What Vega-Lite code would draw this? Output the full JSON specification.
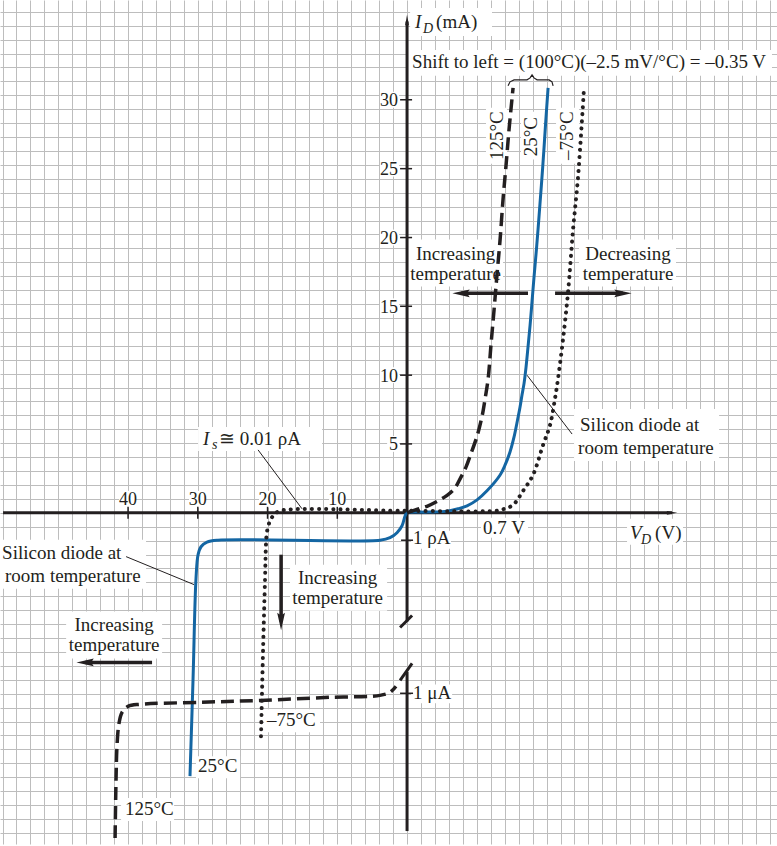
{
"$schema":"https://vega.github.io/schema/vega-lite/v6.json",
"width":777,"height":846,
"autosize":{"type":"fit","contains":"padding"},
"padding":0,
"background":"white",
"config":{"view":{"stroke":null},"axis":{"grid":true,"labels":false,"ticks":false,"domain":false,"title":null,"gridColor":"#bdbdbd","gridWidth":1,"gridOpacity":1},"axisX":{"tickCount":56},"axisY":{"tickCount":61}},
"datasets":{
"boxes":[
{"x":0.07,"x2":26.16,"y":31.40,"y2":33.26},
{"x":0.22,"x2":6.09,"y":34.27,"y2":36.27},
{"x":5.66,"x2":7.17,"y":25.09,"y2":29.10},
{"x":8.17,"x2":9.75,"y":25.38,"y2":28.82},
{"x":10.68,"x2":12.33,"y":25.09,"y2":29.10},
{"x":0.07,"x2":6.88,"y":16.27,"y2":19.64},
{"x":12.33,"x2":19.28,"y":16.27,"y2":19.64},
{"x":11.97,"x2":22.37,"y":3.73,"y2":7.46},
{"x":-14.98,"x2":-6.09,"y":4.44,"y2":6.16},
{"x":-20.65,"x2":-19.43,"y":0.36,"y2":1.58},
{"x":-15.63,"x2":-14.41,"y":0.36,"y2":1.58},
{"x":-10.61,"x2":-9.39,"y":0.36,"y2":1.58},
{"x":-5.59,"x2":-4.37,"y":0.36,"y2":1.58},
{"x":-1.43,"x2":-0.57,"y":4.38,"y2":5.52},
{"x":-1.94,"x2":-0.57,"y":9.32,"y2":10.46},
{"x":-1.94,"x2":-0.57,"y":14.27,"y2":15.41},
{"x":-1.94,"x2":-0.57,"y":19.21,"y2":20.35},
{"x":-1.94,"x2":-0.57,"y":24.16,"y2":25.30},
{"x":-1.94,"x2":-0.57,"y":29.11,"y2":30.25},
{"x":5.30,"x2":8.67,"y":-1.79,"y2":-0.36},
{"x":0.29,"x2":3.15,"y":-2.58,"y2":-1.29},
{"x":0.29,"x2":3.23,"y":-13.69,"y2":-12.33},
{"x":15.77,"x2":19.78,"y":-2.29,"y2":-0.43},
{"x":-29.18,"x2":-18.71,"y":-5.45,"y2":-1.94},
{"x":-8.39,"x2":-1.43,"y":-7.03,"y2":-3.73},
{"x":-24.44,"x2":-17.56,"y":-10.47,"y2":-7.10},
{"x":-15.13,"x2":-11.97,"y":-19.07,"y2":-17.49},
{"x":-20.50,"x2":-16.70,"y":-22.15,"y2":-20.50},
{"x":-10.25,"x2":-6.24,"y":-15.77,"y2":-14.12}
],
"curves":[
{"c":"25","s":"a","o":1,"x":-15.56,"y":-18.92},
{"c":"25","s":"a","o":2,"x":-15.34,"y":-11.90},
{"c":"25","s":"a","o":3,"x":-15.13,"y":-4.73},
{"c":"25","s":"a","o":4,"x":-14.98,"y":-3.01},
{"c":"25","s":"a","o":5,"x":-14.77,"y":-2.44},
{"c":"25","s":"a","o":6,"x":-14.34,"y":-2.11},
{"c":"25","s":"a","o":7,"x":-13.55,"y":-1.97},
{"c":"25","s":"a","o":8,"x":-1.94,"y":-1.97},
{"c":"25","s":"a","o":9,"x":-1.22,"y":-1.79},
{"c":"25","s":"a","o":10,"x":-0.72,"y":-1.43},
{"c":"25","s":"a","o":11,"x":-0.36,"y":-0.93},
{"c":"25","s":"a","o":12,"x":-0.14,"y":-0.22},
{"c":"25","s":"a","o":13,"x":0,"y":0},
{"c":"25","s":"a","o":14,"x":1.43,"y":0.05},
{"c":"25","s":"a","o":15,"x":2.87,"y":0.12},
{"c":"25","s":"a","o":16,"x":3.66,"y":0.29},
{"c":"25","s":"a","o":17,"x":4.30,"y":0.50},
{"c":"25","s":"a","o":18,"x":5.02,"y":0.93},
{"c":"25","s":"a","o":19,"x":5.73,"y":1.58},
{"c":"25","s":"a","o":20,"x":6.67,"y":2.72},
{"c":"25","s":"a","o":21,"x":7.03,"y":3.44},
{"c":"25","s":"a","o":22,"x":7.38,"y":4.37},
{"c":"25","s":"a","o":23,"x":7.67,"y":5.45},
{"c":"25","s":"a","o":24,"x":7.89,"y":6.52},
{"c":"25","s":"a","o":25,"x":8.10,"y":7.60},
{"c":"25","s":"a","o":26,"x":8.24,"y":8.46},
{"c":"25","s":"a","o":27,"x":8.39,"y":9.32},
{"c":"25","s":"a","o":28,"x":8.53,"y":10.47},
{"c":"25","s":"a","o":29,"x":8.67,"y":11.90},
{"c":"25","s":"a","o":30,"x":8.82,"y":13.48},
{"c":"25","s":"a","o":31,"x":8.96,"y":15.20},
{"c":"25","s":"a","o":32,"x":9.10,"y":16.92},
{"c":"25","s":"a","o":33,"x":9.25,"y":18.64},
{"c":"25","s":"a","o":34,"x":9.39,"y":20.36},
{"c":"25","s":"a","o":35,"x":9.53,"y":22.22},
{"c":"25","s":"a","o":36,"x":9.68,"y":24.23},
{"c":"25","s":"a","o":37,"x":9.82,"y":26.24},
{"c":"25","s":"a","o":38,"x":9.96,"y":28.39},
{"c":"25","s":"a","o":39,"x":10.11,"y":30.54},
{"c":"125","s":"r","o":1,"x":-20.93,"y":-23.37},
{"c":"125","s":"r","o":2,"x":-20.86,"y":-19.07},
{"c":"125","s":"r","o":3,"x":-20.79,"y":-16.70},
{"c":"125","s":"r","o":4,"x":-20.65,"y":-15.13},
{"c":"125","s":"r","o":5,"x":-20.43,"y":-14.34},
{"c":"125","s":"r","o":6,"x":-20.00,"y":-13.91},
{"c":"125","s":"r","o":7,"x":-19.14,"y":-13.76},
{"c":"125","s":"r","o":8,"x":-14.84,"y":-13.62},
{"c":"125","s":"r","o":9,"x":-10.54,"y":-13.48},
{"c":"125","s":"r","o":10,"x":-5.52,"y":-13.26},
{"c":"125","s":"r","o":11,"x":-1.94,"y":-13.12},
{"c":"125","s":"r","o":12,"x":-1.22,"y":-12.90},
{"c":"125","s":"r","o":13,"x":-0.79,"y":-12.47},
{"c":"125","s":"f","o":1,"x":0,"y":0},
{"c":"125","s":"f","o":2,"x":0.65,"y":0.22},
{"c":"125","s":"f","o":3,"x":1.43,"y":0.47},
{"c":"125","s":"f","o":4,"x":2.15,"y":0.82},
{"c":"125","s":"f","o":5,"x":2.87,"y":1.25},
{"c":"125","s":"f","o":6,"x":3.44,"y":1.79},
{"c":"125","s":"f","o":7,"x":3.80,"y":2.44},
{"c":"125","s":"f","o":8,"x":4.23,"y":3.30},
{"c":"125","s":"f","o":9,"x":4.52,"y":4.09},
{"c":"125","s":"f","o":10,"x":5.02,"y":5.52},
{"c":"125","s":"f","o":11,"x":5.38,"y":6.95},
{"c":"125","s":"f","o":12,"x":5.59,"y":8.17},
{"c":"125","s":"f","o":13,"x":5.81,"y":9.61},
{"c":"125","s":"f","o":14,"x":6.02,"y":12.11},
{"c":"125","s":"f","o":15,"x":6.24,"y":14.62},
{"c":"125","s":"f","o":16,"x":6.45,"y":17.13},
{"c":"125","s":"f","o":17,"x":6.67,"y":19.64},
{"c":"125","s":"f","o":18,"x":6.88,"y":22.51},
{"c":"125","s":"f","o":19,"x":7.10,"y":25.02},
{"c":"125","s":"f","o":20,"x":7.31,"y":27.53},
{"c":"125","s":"f","o":21,"x":7.60,"y":30.54},
{"c":"-75","s":"a","o":1,"x":-10.47,"y":-16.06},
{"c":"-75","s":"a","o":2,"x":-10.32,"y":-9.75},
{"c":"-75","s":"a","o":3,"x":-10.18,"y":-4.73},
{"c":"-75","s":"a","o":4,"x":-10.11,"y":-2.22},
{"c":"-75","s":"a","o":5,"x":-10.04,"y":-1.36},
{"c":"-75","s":"a","o":6,"x":-9.82,"y":-0.57},
{"c":"-75","s":"a","o":7,"x":-9.53,"y":-0.14},
{"c":"-75","s":"a","o":8,"x":-9.10,"y":0.14},
{"c":"-75","s":"a","o":9,"x":0,"y":0.14},
{"c":"-75","s":"a","o":10,"x":6.31,"y":0.14},
{"c":"-75","s":"a","o":11,"x":6.88,"y":0.25},
{"c":"-75","s":"a","o":12,"x":7.60,"y":0.57},
{"c":"-75","s":"a","o":13,"x":8.32,"y":1.58},
{"c":"-75","s":"a","o":14,"x":9.03,"y":2.72},
{"c":"-75","s":"a","o":15,"x":9.75,"y":4.87},
{"c":"-75","s":"a","o":16,"x":10.25,"y":6.31},
{"c":"-75","s":"a","o":17,"x":10.61,"y":8.24},
{"c":"-75","s":"a","o":18,"x":10.82,"y":9.61},
{"c":"-75","s":"a","o":19,"x":11.18,"y":12.47},
{"c":"-75","s":"a","o":20,"x":11.54,"y":15.84},
{"c":"-75","s":"a","o":21,"x":11.90,"y":20.36},
{"c":"-75","s":"a","o":22,"x":12.26,"y":24.16},
{"c":"-75","s":"a","o":23,"x":12.69,"y":30.61},
{"c":"brace","s":"a","o":1,"x":7.24,"y":30.68},
{"c":"brace","s":"a","o":2,"x":7.38,"y":30.97},
{"c":"brace","s":"a","o":3,"x":7.67,"y":31.11},
{"c":"brace","s":"a","o":4,"x":8.60,"y":31.11},
{"c":"brace","s":"a","o":5,"x":8.82,"y":31.25},
{"c":"brace","s":"a","o":6,"x":8.96,"y":31.47},
{"c":"brace","s":"a","o":7,"x":9.10,"y":31.25},
{"c":"brace","s":"a","o":8,"x":9.32,"y":31.11},
{"c":"brace","s":"a","o":9,"x":10.18,"y":31.11},
{"c":"brace","s":"a","o":10,"x":10.39,"y":30.97},
{"c":"brace","s":"a","o":11,"x":10.47,"y":30.68}
],
"segs":[
{"k":"axis","x":-28.96,"y":0,"x2":19.0,"y2":0},
{"k":"axis","x":0,"y":35.3,"x2":0,"y2":-7.81},
{"k":"axis","x":-0.50,"y":-8.24,"x2":0.36,"y2":-7.38},
{"k":"axis","x":-0.50,"y":-12.04,"x2":0.36,"y2":-10.82},
{"k":"axis","x":0,"y":-11.43,"x2":0,"y2":-22.87},
{"k":"tick","x":-0.50,"y":4.95,"x2":0.36,"y2":4.95},
{"k":"tick","x":-0.50,"y":9.89,"x2":0.36,"y2":9.89},
{"k":"tick","x":-0.50,"y":14.84,"x2":0.36,"y2":14.84},
{"k":"tick","x":-0.50,"y":19.78,"x2":0.36,"y2":19.78},
{"k":"tick","x":-0.50,"y":24.73,"x2":0.36,"y2":24.73},
{"k":"tick","x":-0.50,"y":29.68,"x2":0.36,"y2":29.68},
{"k":"tick","x":-0.43,"y":-1.97,"x2":0.43,"y2":-1.97},
{"k":"tick","x":-0.50,"y":-12.97,"x2":0.43,"y2":-12.97},
{"k":"tick","x":-20,"y":0.43,"x2":-20,"y2":-0.43},
{"k":"tick","x":-15,"y":0.43,"x2":-15,"y2":-0.43},
{"k":"tick","x":-10,"y":0.43,"x2":-10,"y2":-0.43},
{"k":"tick","x":-5,"y":0.43,"x2":-5,"y2":-0.43},
{"k":"shaft","x":8.67,"y":15.77,"x2":3.87,"y2":15.77},
{"k":"shaft","x":10.61,"y":15.77,"x2":15.48,"y2":15.77},
{"k":"shaft","x":-9.03,"y":-3.01,"x2":-9.03,"y2":-7.81},
{"k":"shaft","x":-18.28,"y":-10.75,"x2":-23.08,"y2":-10.75},
{"k":"leader","x":8.60,"y":9.89,"x2":11.83,"y2":5.66},
{"k":"leader","x":-10.68,"y":4.52,"x2":-7.53,"y2":0.29},
{"k":"leader","x":-20.14,"y":-3.15,"x2":-15.27,"y2":-5.16}
],
"heads":[
{"k":"up","x":0,"y":35.41},
{"k":"rs","x":19.0,"y":0},
{"k":"left","x":3.87,"y":15.77},
{"k":"left","x":-23.08,"y":-10.75},
{"k":"right","x":15.48,"y":15.77},
{"k":"down","x":-9.03,"y":-7.81}
],
"texts":[
{"k":"L","t":"Shift to left = (100°C)(–2.5 mV/°C) = –0.35 V","x":0.36,"y":31.97},
{"k":"L","t":"(mA)","x":2.08,"y":34.84},
{"k":"L","t":"Silicon diode at","x":12.40,"y":5.88},
{"k":"L","t":"room temperature","x":12.26,"y":4.23},
{"k":"L","t":"≅ 0.01 ρA","x":-13.48,"y":4.87},
{"k":"L","t":"(V)","x":17.78,"y":-1.86},
{"k":"L","t":"Silicon diode at","x":-29.03,"y":-3.35},
{"k":"L","t":"room temperature","x":-28.82,"y":-4.95},
{"k":"L","t":"25°C","x":-14.98,"y":-18.64},
{"k":"L","t":"125°C","x":-20.22,"y":-21.72},
{"k":"L","t":"–75°C","x":-10.04,"y":-15.34},
{"k":"L","t":"1 ρA","x":0.43,"y":-2.22},
{"k":"L","t":"1 μA","x":0.43,"y":-13.41},
{"k":"C","t":"Increasing","x":3.48,"y":18.14},
{"k":"C","t":"temperature","x":3.48,"y":16.70},
{"k":"C","t":"Decreasing","x":15.84,"y":18.14},
{"k":"C","t":"temperature","x":15.84,"y":16.70},
{"k":"C","t":"Increasing","x":-4.98,"y":-5.09},
{"k":"C","t":"temperature","x":-4.98,"y":-6.56},
{"k":"C","t":"Increasing","x":-21.00,"y":-8.46},
{"k":"C","t":"temperature","x":-21.00,"y":-9.96},
{"k":"C","t":"0.7 V","x":6.95,"y":-1.51},
{"k":"X","t":"40","x":-20,"y":0.57},
{"k":"X","t":"30","x":-15,"y":0.57},
{"k":"X","t":"20","x":-10,"y":0.57},
{"k":"X","t":"10","x":-5,"y":0.57},
{"k":"Y","t":"5","x":-0.65,"y":4.48},
{"k":"Y","t":"10","x":-0.65,"y":9.42},
{"k":"Y","t":"15","x":-0.65,"y":14.37},
{"k":"Y","t":"20","x":-0.65,"y":19.31},
{"k":"Y","t":"25","x":-0.65,"y":24.26},
{"k":"Y","t":"30","x":-0.65,"y":29.21},
{"k":"I","t":"I","x":0.57,"y":34.84},
{"k":"I","t":"I","x":-14.62,"y":4.87},
{"k":"I","t":"V","x":15.99,"y":-1.86},
{"k":"S","t":"D","x":1.15,"y":34.48},
{"k":"S","t":"s","x":-13.98,"y":4.59},
{"k":"S","t":"D","x":16.77,"y":-2.22},
{"k":"R","t":"125°C","x":6.42,"y":27.10},
{"k":"R","t":"25°C","x":8.92,"y":27.03},
{"k":"R","t":"–75°C","x":11.47,"y":27.10}
]
},
"layer":[
{"data":{"name":"boxes"},"mark":{"type":"rect","color":"white"},
 "encoding":{
  "x":{"field":"x","type":"quantitative","scale":{"domain":[-29.18,26.52],"nice":false,"zero":false}},
  "x2":{"field":"x2"},
  "y":{"field":"y","type":"quantitative","scale":{"domain":[-23.8,36.85],"nice":false,"zero":false}},
  "y2":{"field":"y2"}}},
{"data":{"name":"segs"},"transform":[{"filter":"datum.k=='axis'"}],"mark":{"type":"rule","color":"#231f20","strokeWidth":3},
 "encoding":{"x":{"field":"x","type":"quantitative"},"y":{"field":"y","type":"quantitative"},"x2":{"field":"x2"},"y2":{"field":"y2"}}},
{"data":{"name":"segs"},"transform":[{"filter":"datum.k=='tick'"}],"mark":{"type":"rule","color":"#231f20","strokeWidth":1.5},
 "encoding":{"x":{"field":"x","type":"quantitative"},"y":{"field":"y","type":"quantitative"},"x2":{"field":"x2"},"y2":{"field":"y2"}}},
{"data":{"name":"segs"},"transform":[{"filter":"datum.k=='shaft'"}],"mark":{"type":"rule","color":"#231f20","strokeWidth":3.5},
 "encoding":{"x":{"field":"x","type":"quantitative"},"y":{"field":"y","type":"quantitative"},"x2":{"field":"x2"},"y2":{"field":"y2"}}},
{"data":{"name":"segs"},"transform":[{"filter":"datum.k=='leader'"}],"mark":{"type":"rule","color":"#231f20","strokeWidth":1},
 "encoding":{"x":{"field":"x","type":"quantitative"},"y":{"field":"y","type":"quantitative"},"x2":{"field":"x2"},"y2":{"field":"y2"}}},
{"data":{"name":"curves"},"transform":[{"filter":"datum.c=='brace'"}],"mark":{"type":"line","color":"#231f20","strokeWidth":1.2,"interpolate":"linear"},
 "encoding":{"x":{"field":"x","type":"quantitative"},"y":{"field":"y","type":"quantitative"},"order":{"field":"o"}}},
{"data":{"name":"curves"},"transform":[{"filter":"datum.c=='25'"}],"mark":{"type":"line","color":"#1466a3","strokeWidth":3,"interpolate":"catmull-rom"},
 "encoding":{"x":{"field":"x","type":"quantitative"},"y":{"field":"y","type":"quantitative"},"order":{"field":"o"}}},
{"data":{"name":"curves"},"transform":[{"filter":"datum.c=='125'"}],"mark":{"type":"line","color":"#231f20","strokeWidth":3.5,"strokeDash":[13,6],"interpolate":"catmull-rom"},
 "encoding":{"x":{"field":"x","type":"quantitative"},"y":{"field":"y","type":"quantitative"},"detail":{"field":"s"},"order":{"field":"o"}}},
{"data":{"name":"curves"},"transform":[{"filter":"datum.c=='-75'"}],"mark":{"type":"line","color":"#231f20","strokeWidth":4,"strokeDash":[0.1,7],"strokeCap":"round","interpolate":"catmull-rom"},
 "encoding":{"x":{"field":"x","type":"quantitative"},"y":{"field":"y","type":"quantitative"},"order":{"field":"o"}}},
{"data":{"name":"heads"},"transform":[{"filter":"datum.k=='up'"}],"mark":{"type":"point","filled":true,"opacity":1,"color":"#231f20","shape":"M0,-1L0.36,1L-0.36,1Z","size":110,"angle":0},
 "encoding":{"x":{"field":"x","type":"quantitative"},"y":{"field":"y","type":"quantitative"}}},
{"data":{"name":"heads"},"transform":[{"filter":"datum.k=='rs'"}],"mark":{"type":"point","filled":true,"opacity":1,"color":"#231f20","shape":"M0,-1L0.36,1L-0.36,1Z","size":110,"angle":90},
 "encoding":{"x":{"field":"x","type":"quantitative"},"y":{"field":"y","type":"quantitative"}}},
{"data":{"name":"heads"},"transform":[{"filter":"datum.k=='left'"}],"mark":{"type":"point","filled":true,"opacity":1,"color":"#231f20","shape":"M0,-1L0.45,1L0,0.7L-0.45,1Z","size":300,"angle":270},
 "encoding":{"x":{"field":"x","type":"quantitative"},"y":{"field":"y","type":"quantitative"}}},
{"data":{"name":"heads"},"transform":[{"filter":"datum.k=='right'"}],"mark":{"type":"point","filled":true,"opacity":1,"color":"#231f20","shape":"M0,-1L0.45,1L0,0.7L-0.45,1Z","size":300,"angle":90},
 "encoding":{"x":{"field":"x","type":"quantitative"},"y":{"field":"y","type":"quantitative"}}},
{"data":{"name":"heads"},"transform":[{"filter":"datum.k=='down'"}],"mark":{"type":"point","filled":true,"opacity":1,"color":"#231f20","shape":"M0,-1L0.45,1L0,0.7L-0.45,1Z","size":300,"angle":180},
 "encoding":{"x":{"field":"x","type":"quantitative"},"y":{"field":"y","type":"quantitative"}}},
{"data":{"name":"texts"},"transform":[{"filter":"datum.k=='L'"}],"mark":{"type":"text","align":"left","baseline":"alphabetic","font":"Liberation Serif","fontSize":19,"color":"#231f20"},
 "encoding":{"x":{"field":"x","type":"quantitative"},"y":{"field":"y","type":"quantitative"},"text":{"field":"t"}}},
{"data":{"name":"texts"},"transform":[{"filter":"datum.k=='C'"}],"mark":{"type":"text","align":"center","baseline":"alphabetic","font":"Liberation Serif","fontSize":19,"color":"#231f20"},
 "encoding":{"x":{"field":"x","type":"quantitative"},"y":{"field":"y","type":"quantitative"},"text":{"field":"t"}}},
{"data":{"name":"texts"},"transform":[{"filter":"datum.k=='X'"}],"mark":{"type":"text","align":"center","baseline":"alphabetic","font":"Liberation Serif","fontSize":18,"color":"#231f20"},
 "encoding":{"x":{"field":"x","type":"quantitative"},"y":{"field":"y","type":"quantitative"},"text":{"field":"t"}}},
{"data":{"name":"texts"},"transform":[{"filter":"datum.k=='Y'"}],"mark":{"type":"text","align":"right","baseline":"alphabetic","font":"Liberation Serif","fontSize":18,"color":"#231f20"},
 "encoding":{"x":{"field":"x","type":"quantitative"},"y":{"field":"y","type":"quantitative"},"text":{"field":"t"}}},
{"data":{"name":"texts"},"transform":[{"filter":"datum.k=='I'"}],"mark":{"type":"text","align":"left","baseline":"alphabetic","font":"Liberation Serif","fontStyle":"italic","fontSize":19,"color":"#231f20"},
 "encoding":{"x":{"field":"x","type":"quantitative"},"y":{"field":"y","type":"quantitative"},"text":{"field":"t"}}},
{"data":{"name":"texts"},"transform":[{"filter":"datum.k=='S'"}],"mark":{"type":"text","align":"left","baseline":"alphabetic","font":"Liberation Serif","fontStyle":"italic","fontSize":14,"color":"#231f20"},
 "encoding":{"x":{"field":"x","type":"quantitative"},"y":{"field":"y","type":"quantitative"},"text":{"field":"t"}}},
{"data":{"name":"texts"},"transform":[{"filter":"datum.k=='R'"}],"mark":{"type":"text","align":"center","baseline":"middle","angle":270,"font":"Liberation Serif","fontSize":19,"color":"#231f20"},
 "encoding":{"x":{"field":"x","type":"quantitative"},"y":{"field":"y","type":"quantitative"},"text":{"field":"t"}}}
]
}
